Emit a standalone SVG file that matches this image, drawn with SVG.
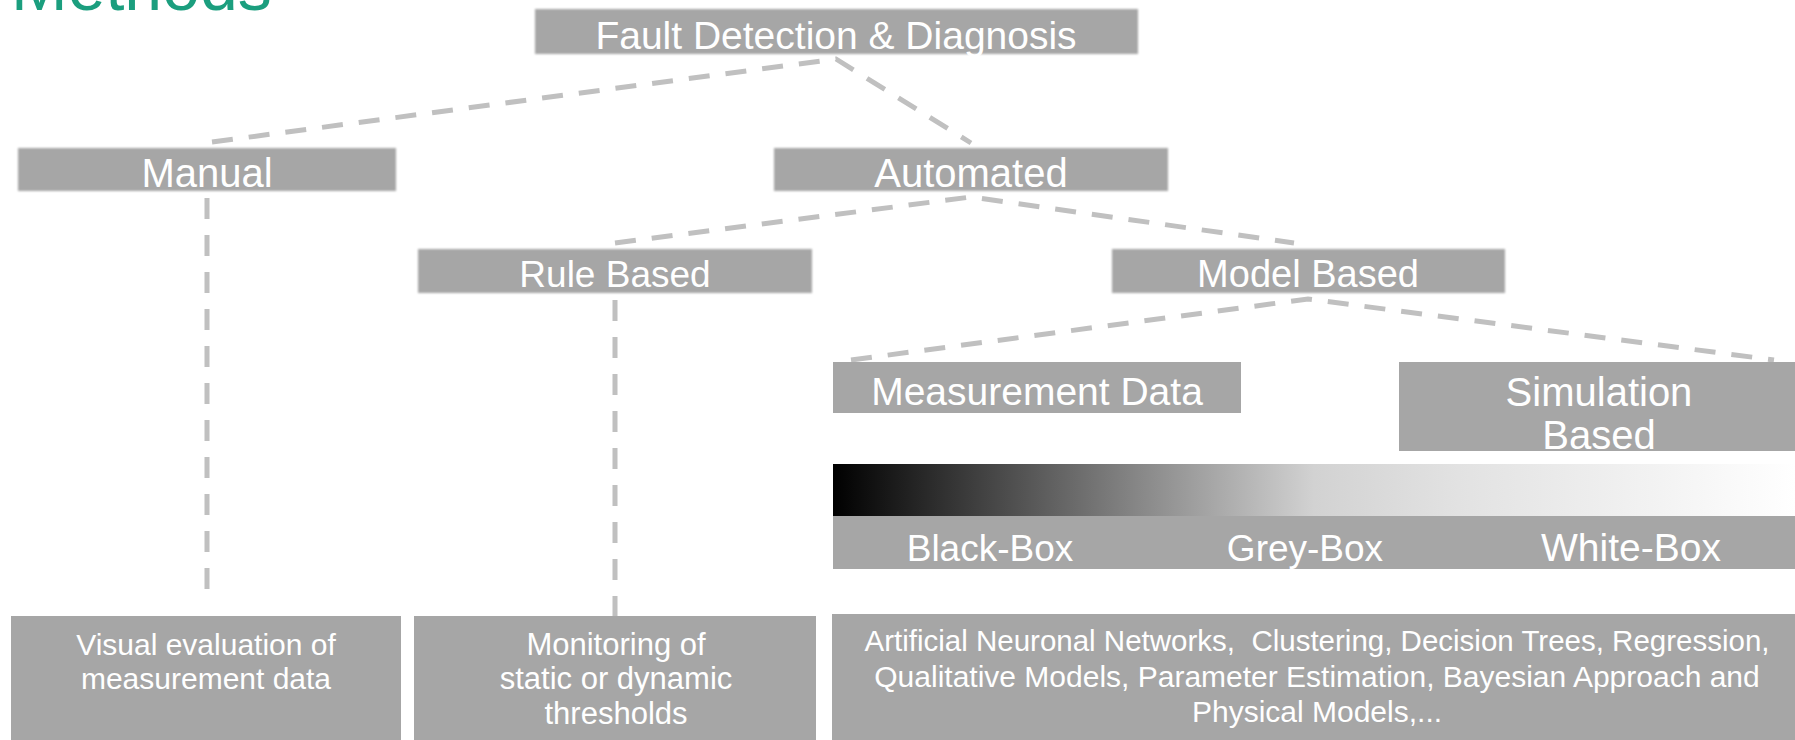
<svg xmlns="http://www.w3.org/2000/svg" width="1795" height="740" viewBox="0 0 1795 740">
<style>
.box{fill:#a6a6a6}
.soft{filter:url(#soft)}
.lbl{fill:#ffffff;font-family:"Liberation Sans","DejaVu Sans",sans-serif;text-anchor:middle}
.big{font-size:39px}
.small{font-size:30px}
.conn{fill:none;stroke:#c0c0c0;stroke-width:5;stroke-dasharray:21 16}
.title{fill:#1b9e7e;font-family:"Liberation Sans","DejaVu Sans",sans-serif;font-size:68px}
</style>
<defs>
<filter id="soft" x="-5%" y="-20%" width="110%" height="140%">
<feGaussianBlur stdDeviation="1.2"/>
</filter>
<linearGradient id="bw" x1="0" y1="0" x2="1" y2="0">
<stop offset="0" stop-color="#000000"/>
<stop offset="0.32" stop-color="#888888"/>
<stop offset="0.5" stop-color="#d2d2d2"/>
<stop offset="0.65" stop-color="#e2e2e2"/>
<stop offset="0.85" stop-color="#f2f2f2"/>
<stop offset="1" stop-color="#ffffff"/>
</linearGradient>
</defs>
<text class="title" x="11" y="10">Methods</text>
<g id="connectors">
<polyline class="conn" points="212,142 836,59 971,143"/>
<line class="conn" x1="207" y1="198" x2="207" y2="602"/>
<polyline class="conn" points="615,243 971,197 1294,243"/>
<line class="conn" x1="615" y1="300" x2="615" y2="616"/>
<polyline class="conn" points="851,360 1308,299 1774,360"/>
</g>
<g id="fdd">
<rect class="box soft" x="535" y="9" width="603" height="45"/>
<text class="lbl big" x="836" y="49">Fault Detection &amp; Diagnosis</text>
</g>
<g id="manual">
<rect class="box soft" x="18" y="148" width="378" height="43"/>
<text class="lbl" style="font-size:40px" x="207" y="187">Manual</text>
</g>
<g id="automated">
<rect class="box soft" x="774" y="148" width="394" height="43"/>
<text class="lbl" style="font-size:40px" x="971" y="187">Automated</text>
</g>
<g id="rule">
<rect class="box soft" x="418" y="249" width="394" height="44"/>
<text class="lbl" style="font-size:37px" x="615" y="287">Rule Based</text>
</g>
<g id="model">
<rect class="box soft" x="1112" y="249" width="393" height="44"/>
<text class="lbl" style="font-size:38px" x="1308" y="287">Model Based</text>
</g>
<g id="measurement">
<rect class="box" x="833" y="362" width="408" height="51"/>
<text class="lbl big" x="1037" y="405">Measurement Data</text>
</g>
<g id="simulation">
<rect class="box" x="1399" y="362" width="401" height="89"/>
<text class="lbl" style="font-size:40px" x="1599" y="406">Simulation</text>
<text class="lbl" style="font-size:40px" x="1599" y="449">Based</text>
</g>
<g id="gradient">
<rect x="833" y="464" width="962" height="52" fill="url(#bw)"/>
</g>
<g id="blackbox">
<rect class="box" x="833" y="516" width="313" height="53"/>
<text class="lbl" style="font-size:37px" x="990" y="561">Black-Box</text>
</g>
<g id="greybox">
<rect class="box" x="1146" y="516" width="317" height="53"/>
<text class="lbl" style="font-size:37px" x="1305" y="561">Grey-Box</text>
</g>
<g id="whitebox">
<rect class="box" x="1463" y="516" width="332" height="53"/>
<text class="lbl" style="font-size:39px" x="1631" y="561">White-Box</text>
</g>
<g id="visual">
<rect class="box" x="11" y="616" width="390" height="124"/>
<text class="lbl small" x="206" y="655">Visual evaluation of</text>
<text class="lbl small" x="206" y="689">measurement data</text>
</g>
<g id="monitoring">
<rect class="box" x="414" y="616" width="402" height="124"/>
<text class="lbl" style="font-size:31px" x="616" y="655">Monitoring of</text>
<text class="lbl" style="font-size:31px" x="616" y="689">static or dynamic</text>
<text class="lbl" style="font-size:31px" x="616" y="724">thresholds</text>
</g>
<g id="methods">
<rect class="box" x="832" y="614" width="963" height="126"/>
<text class="lbl" style="font-size:29.5px" xml:space="preserve" x="1317" y="651">Artificial Neuronal Networks,  Clustering, Decision Trees, Regression,</text>
<text class="lbl small" x="1317" y="687">Qualitative Models, Parameter Estimation, Bayesian Approach and</text>
<text class="lbl small" x="1317" y="722">Physical Models,...</text>
</g>
</svg>
